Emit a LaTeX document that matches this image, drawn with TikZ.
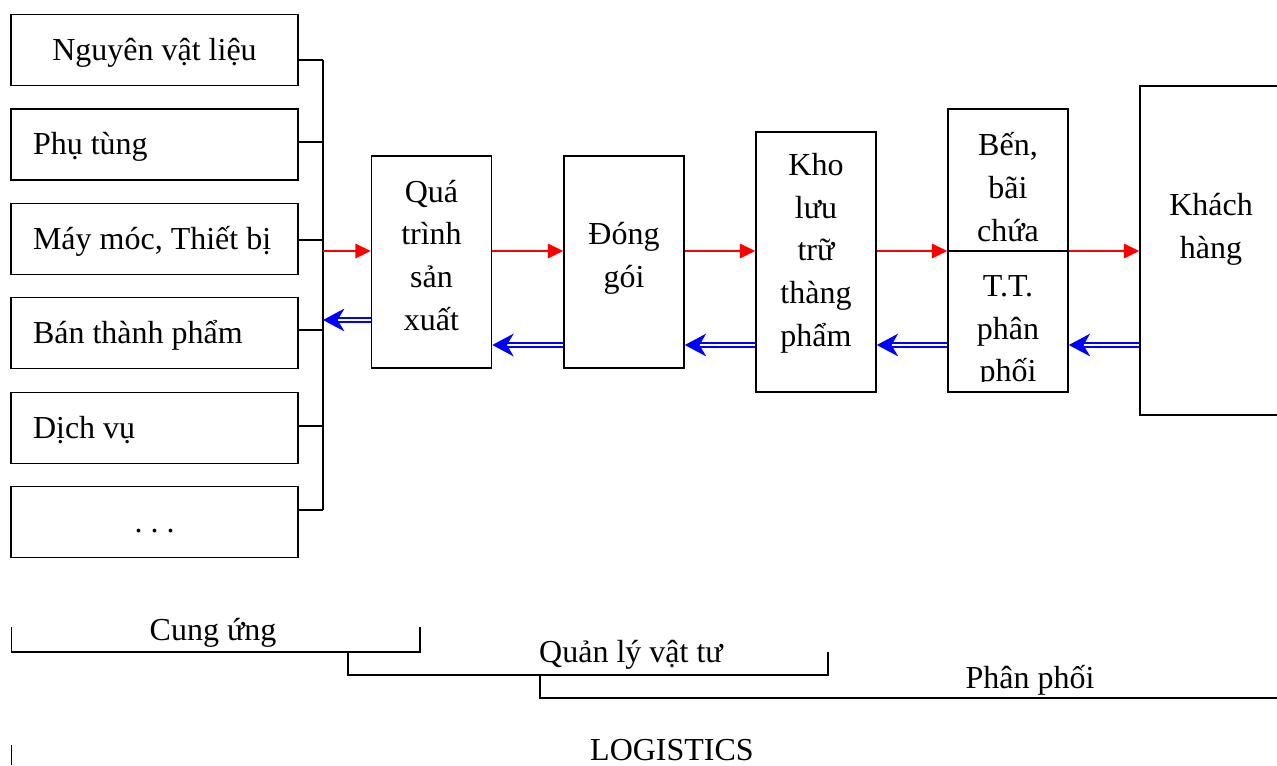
\documentclass[tikz,border=0pt]{standalone}
\usepackage{fontspec}
\setmainfont{Liberation Serif}
\usetikzlibrary{arrows.meta,calc}
\newcommand\diagfont{\fontsize{24}{32}\selectfont}
% left-aligned entry of fixed width inside a supply box
\newcommand\srcline[1]{\makebox[182.25pt][l]{#1}}
\tikzset{
  box/.style={draw, line width=1.2pt, inner sep=0pt, align=center, font=\diagfont},
  srcbox/.style={box, minimum width=215.25pt, minimum height=53.25pt,
    text height=20pt, text depth=5pt},
  procbox/.style={box, minimum width=90pt, text depth=6pt},
  lbl/.style={inner sep=0pt, font=\diagfont},
  wire/.style={line width=1.2pt},
  fwd/.style={draw=red, line width=1pt, -{Triangle[length=11.5pt,width=11pt]}},
  back/.style={draw=blue, line width=1.5pt, double=white, double distance=1.5pt,
    -{Stealth[length=16pt,width=17pt,inset=5pt]}},
}
\begin{document}
\begin{tikzpicture}[x=0.75pt,y=-0.75pt]
\clip (0,0) rectangle (1277,765);

% supply items
\node[srcbox] (b1) at (154.5,50)  {Nguyên vật liệu};
\node[srcbox] (b2) at (154.5,144.5) {\srcline{Phụ tùng}};
\node[srcbox] (b3) at (154.5,239)   {\srcline{Máy móc, Thiết bị}};
\node[srcbox] (b4) at (154.5,333)   {\srcline{Bán thành phẩm}};
\node[srcbox] (b5) at (154.5,428)   {\srcline{Dịch vụ}};
\node[srcbox] (b6) at (154.5,522) {.\ .\ .};

% collecting bar
\coordinate (s1) at (323,60);
\coordinate (s2) at (323,142);
\coordinate (s3) at (323,240);
\coordinate (s4) at (323,330);
\coordinate (s5) at (323,426);
\coordinate (s6) at (323,510);
\draw[wire] (s1) -- (s6);
\foreach \i in {1,...,6} \draw[wire] (s\i -| b\i.east) -- (s\i);

% process chain
\node[procbox, minimum height=159pt, text height=108pt] (qt) at (431.5,262) {Quá\\trình\\sản\\xuất};
\node[procbox, minimum height=159pt, text height=43.5pt] (dg) at (624,262) {Đóng\\gói};
\node[procbox, minimum height=195pt, text height=132pt] (kho) at (816,262) {Kho\\lưu\\trữ\\thàng\\phẩm};
\node[procbox, minimum height=106.5pt, text height=97.5pt] (bai) at (1008,180) {Bến,\\bãi\\chứa};
\node[procbox, minimum height=105.75pt] (tt) at (1008,321.5) {};
\begin{scope}
  \clip (948,252) rectangle (1068,381);
  \node[lbl, align=center] (tttext) at (1008,332) {T.T.\\phân\\phối};
\end{scope}
\node[box, minimum width=112.5pt, minimum height=246.75pt] (kh) at (1215,250.5) {};
\node[lbl, align=center] (khtext) at (1211,229) {Khách\\hàng};

% material flow
\coordinate (fin) at (323,251);
\coordinate (flow) at (0,251);
\draw[fwd] (fin) -- (fin -| qt.west);
\draw[fwd] (flow -| qt.east) -- (flow -| dg.west);
\draw[fwd] (flow -| dg.east) -- (flow -| kho.west);
\draw[fwd] (flow -| kho.east) -- (flow -| bai.west);
\draw[fwd] (flow -| bai.east) -- (flow -| kh.west);

% return flow
\coordinate (fout) at (323,320);
\coordinate (ret) at (0,345);
\draw[back] (fout -| qt.west) -- (fout);
\draw[back] (ret -| dg.west) -- (ret -| qt.east);
\draw[back] (ret -| kho.west) -- (ret -| dg.east);
\draw[back] (ret -| tt.west) -- (ret -| kho.east);
\draw[back] (ret -| kh.west) -- (ret -| tt.east);

% scope brackets
\coordinate (cuL) at (11.5,627);
\coordinate (cuR) at (420,627);
\coordinate (cuB) at (0,652);
\draw[wire] (cuL) -- (cuL |- cuB) -- (cuR |- cuB) -- (cuR);
\node[lbl, anchor=base] (cu) at (213,640) {Cung ứng};

\coordinate (qlL) at (348,652);
\coordinate (qlR) at (828,652);
\coordinate (qlB) at (0,675);
\draw[wire] (qlL) -- (qlL |- qlB) -- (qlR |- qlB) -- (qlR);
\node[lbl, anchor=base] (ql) at (631,662) {Quản lý vật tư};

\coordinate (ppL) at (540,675);
\coordinate (ppR) at (1277,698);
\draw[wire] (ppL) -- (ppL |- ppR) -- (ppR);
\node[lbl, anchor=base] (pp) at (1030,688) {Phân phối};

\coordinate (lgL) at (11.5,745);
\draw[wire] (lgL) -- (11.5,765);
\node[lbl, anchor=base] (lg) at (672,760) {LOGISTICS};
\end{tikzpicture}
\end{document}
